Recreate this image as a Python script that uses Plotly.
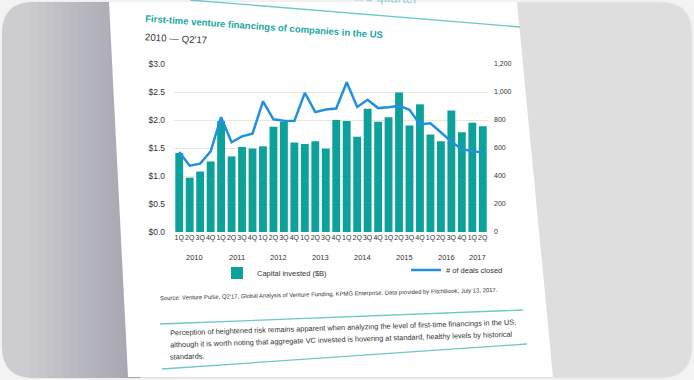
import plotly.graph_objects as go

# ---------------- data ----------------
quarters = ["1Q", "2Q", "3Q", "4Q"] * 7 + ["1Q", "2Q"]
years = ["2010", "2011", "2012", "2013", "2014", "2015", "2016", "2017"]
year_of_quarter = [y for y in years[:-1] for _ in range(4)] + ["2017", "2017"]

capital_invested_b = [1.41, 0.97, 1.08, 1.26, 1.98, 1.35, 1.52, 1.49,
                      1.53, 1.88, 1.97, 1.60, 1.57, 1.62, 1.49, 2.00,
                      1.98, 1.70, 2.20, 1.97, 2.05, 2.49, 1.90, 2.28,
                      1.74, 1.62, 2.17, 1.78, 1.95, 1.89]
deals_closed = [571, 474, 488, 576, 820, 641, 683, 702,
                933, 805, 795, 793, 994, 856, 875, 882,
                1070, 893, 944, 885, 891, 902, 873, 769,
                777, 712, 647, 590, 576, 567]

left_ticks = [0, 0.5, 1.0, 1.5, 2.0, 2.5, 3.0]
left_tick_labels = ["$0.0", "$0.5", "$1.0", "$1.5", "$2.0", "$2.5", "$3.0"]
right_ticks = [0, 200, 400, 600, 800, 1000, 1200]
right_tick_labels = ["0", "200", "400", "600", "800", "1,000", "1,200"]

title_text = "First-time venture financings of companies in the US"
subtitle_text = "2010 \u2014 Q2'17"
source_text = ("Source: Venture Pulse, Q2'17, Global Analysis of Venture Funding, KPMG Enterprise. "
               "Data provided by PitchBook, July 13, 2017.")
para_lines = ["Perception of heightened risk remains apparent when analyzing the level of first-time financings in the US,",
              "although it is worth noting that aggregate VC invested is hovering at standard, healthy levels by historical",
              "standards."]

# ---------------- layout geometry ----------------
W, H = 694, 380
L, R, T, B = 174, 206, 64, 148
PW, PH = W - L - R, H - T - B

def fx(x):
    return (x - L) / PW

def fy(y):
    return (H - B - y) / PH

FONT = "Liberation Sans, Arial, sans-serif"
TEAL = "#0ca19a"
BLUE = "#2290e2"
TXT = "#333333"

xs = list(range(len(quarters)))

fig = go.Figure()
fig.add_trace(go.Bar(x=xs, y=capital_invested_b, name="Capital invested ($B)",
                     marker=dict(color=TEAL, line=dict(width=0)), yaxis="y", legend="legend"))
fig.add_trace(go.Scatter(x=xs, y=deals_closed, name="# of deals closed", mode="lines",
                         line=dict(color=BLUE, width=2.5), yaxis="y2", legend="legend2"))

# ---------------- background shapes ----------------
def pt(x, y):
    return f"{fx(x):.5f},{fy(y):.5f}"

def rounded_rect(x0, y0, x1, y1, r, left=True, right=True):
    p = []
    if left:
        p.append("M" + pt(x0, y0 + r))
        p.append("Q" + pt(x0, y0) + " " + pt(x0 + r, y0))
    else:
        p.append("M" + pt(x0, y0))
    if right:
        p.append("L" + pt(x1 - r, y0))
        p.append("Q" + pt(x1, y0) + " " + pt(x1, y0 + r))
        p.append("L" + pt(x1, y1 - r))
        p.append("Q" + pt(x1, y1) + " " + pt(x1 - r, y1))
    else:
        p.append("L" + pt(x1, y0))
        p.append("L" + pt(x1, y1))
    if left:
        p.append("L" + pt(x0 + r, y1))
        p.append("Q" + pt(x0, y1) + " " + pt(x0, y1 - r))
    else:
        p.append("L" + pt(x0, y1))
    p.append("Z")
    return " ".join(p)

shapes = []
shapes.append(dict(type="path", xref="paper", yref="paper", layer="below",
                   path=rounded_rect(2, 2, 692, 378, 32), fillcolor="#dedede",
                   line=dict(color="#e9e9e9", width=1)))
shapes.append(dict(type="path", xref="paper", yref="paper", layer="below",
                   path=rounded_rect(2, 2, 140, 378, 32, right=False), fillcolor="#cdcdd1",
                   line=dict(width=0)))

def mix(c0, c1, t):
    a = [int(c0[i:i + 2], 16) for i in (1, 3, 5)]
    b = [int(c1[i:i + 2], 16) for i in (1, 3, 5)]
    return "#" + "".join(f"{round(a[k] + (b[k] - a[k]) * t):02x}" for k in range(3))

n_strips = 14
x_start, x_end = 30, 140
for i in range(n_strips):
    xa = x_start + (x_end - x_start) * i / n_strips
    xb = x_start + (x_end - x_start) * (i + 1) / n_strips + 0.6
    shapes.append(dict(type="rect", xref="paper", yref="paper", layer="below",
                       x0=fx(xa), x1=fx(xb), y0=fy(378), y1=fy(2),
                       fillcolor=mix("#cacacf", "#a3a2ae", (i + 0.5) / n_strips),
                       line=dict(width=0)))
# the tilted white page
shapes.append(dict(type="path", xref="paper", yref="paper", layer="below",
                   path="M" + pt(109, 2) + " L" + pt(517, 2) + " L" + pt(553, 377) + " L" + pt(128, 377) + " Z",
                   fillcolor="white", line=dict(width=0)))
# teal rules on the page
for (xa, ya, xb, yb) in [(190, 0, 520, 27), (160, 324, 523, 310), (162, 369, 527, 344)]:
    shapes.append(dict(type="line", xref="paper", yref="paper", layer="below",
                       x0=fx(xa), y0=fy(ya), x1=fx(xb), y1=fy(yb),
                       line=dict(color="#6cc9c6", width=1.3)))

# ---------------- annotations ----------------
ann = []
ann.append(dict(text=title_text, xref="paper", yref="paper", x=fx(143), y=fy(27),
                xanchor="left", yanchor="middle", showarrow=False, textangle=4,
                font=dict(family=FONT, size=9.5, color="#19a7a2", weight="bold")))
ann.append(dict(text=subtitle_text, xref="paper", yref="paper", x=fx(143), y=fy(38),
                xanchor="left", yanchor="middle", showarrow=False, textangle=3,
                font=dict(family=FONT, size=9.7, color=TXT)))
ann.append(dict(text="ard quarter", xref="paper", yref="paper", x=fx(352), y=fy(-3),
                xanchor="left", yanchor="middle", showarrow=False, textangle=3,
                font=dict(family=FONT, size=13, color="#8fd3d2")))
# year labels under the quarter labels
for yr in years:
    idx = [i for i, y in enumerate(year_of_quarter) if y == yr]
    ann.append(dict(text=yr, xref="x", yref="paper", x=sum(idx) / len(idx), y=fy(257),
                    xanchor="center", yanchor="middle", showarrow=False,
                    font=dict(family=FONT, size=7.5, color=TXT)))
ann.append(dict(text=source_text, xref="paper", yref="paper", x=fx(158), y=fy(294),
                xanchor="left", yanchor="middle", showarrow=False, textangle=-1.4,
                font=dict(family=FONT, size=5.9, color=TXT)))
for k, (line_txt, yc) in enumerate(zip(para_lines, [327.5, 339.5, 356.5])):
    ann.append(dict(text=line_txt, xref="paper", yref="paper", x=fx(168), y=fy(yc),
                    xanchor="left", yanchor="middle", showarrow=False, textangle=-1.8,
                    font=dict(family=FONT, size=7.4, color=TXT)))

legend_common = dict(orientation="h", xref="container", yref="container",
                     xanchor="left", yanchor="middle", bgcolor="rgba(0,0,0,0)",
                     font=dict(family=FONT, size=7.5, color=TXT), itemwidth=30)

fig.update_layout(
    width=W, height=H, autosize=False,
    margin=dict(l=L, r=R, t=T, b=B, pad=0),
    paper_bgcolor="#f3f3f3", plot_bgcolor="rgba(0,0,0,0)",
    font=dict(family=FONT, color=TXT, size=8),
    bargap=0.25, showlegend=True,
    legend=dict(x=217 / W, y=1 - 273 / H, **legend_common),
    legend2=dict(x=406 / W, y=1 - 270 / H, **legend_common),
    xaxis=dict(tickmode="array", tickvals=xs, ticktext=quarters, range=[-0.5, len(xs) - 0.5],
               showgrid=False, zeroline=False, showline=False, ticks="", tickangle=0,
               automargin=False, tickfont=dict(family=FONT, size=7, color=TXT)),
    yaxis=dict(range=[0, 3], tickmode="array", tickvals=left_ticks, ticktext=left_tick_labels,
               showgrid=True, gridcolor="#e8e6dd", gridwidth=1, zeroline=False, showline=False,
               ticks="", ticklabelstandoff=8, automargin=False,
               tickfont=dict(family=FONT, size=8.5, color=TXT)),
    yaxis2=dict(range=[0, 1200], overlaying="y", side="right", tickmode="array", tickvals=right_ticks,
                ticktext=right_tick_labels, showgrid=False, zeroline=False, showline=False, ticks="",
                ticklabelstandoff=5, automargin=False,
                tickfont=dict(family=FONT, size=7, color=TXT)),
    shapes=shapes, annotations=ann,
)

fig.write_html("out.html", config={"displayModeBar": False},
               post_script="document.body.style.margin='0px';document.body.style.overflow='hidden';")
